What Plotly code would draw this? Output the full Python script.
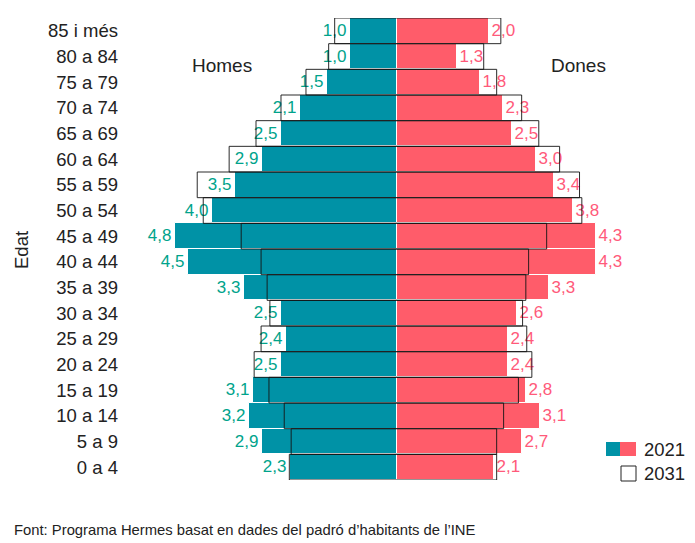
import plotly.graph_objects as go

# Age groups, bottom to top
ages = ["0 a 4", "5 a 9", "10 a 14", "15 a 19", "20 a 24", "25 a 29", "30 a 34",
        "35 a 39", "40 a 44", "45 a 49", "50 a 54", "55 a 59", "60 a 64",
        "65 a 69", "70 a 74", "75 a 79", "80 a 84", "85 i més"]

men_2021 = [2.3, 2.9, 3.2, 3.1, 2.5, 2.4, 2.5, 3.3, 4.5, 4.8, 4.0, 3.5, 2.9, 2.5, 2.1, 1.5, 1.0, 1.0]
men_2031 = [2.32, 2.28, 2.43, 2.76, 3.08, 2.93, 2.74, 2.8, 2.93, 3.36, 4.18, 4.31, 3.62, 3.04, 2.5, 1.96, 1.47, 1.34]
women_2021 = [2.1, 2.7, 3.1, 2.8, 2.4, 2.4, 2.6, 3.3, 4.3, 4.3, 3.8, 3.4, 3.0, 2.5, 2.3, 1.8, 1.3, 2.0]
women_2031 = [2.16, 2.16, 2.31, 2.63, 2.92, 2.81, 2.72, 2.79, 2.85, 3.24, 4.0, 3.95, 3.52, 3.07, 2.7, 2.16, 1.88, 2.25]

TEAL = "#0092A6"
PINK = "#FF5C6A"
TEAL_TXT = "#00A38B"
PINK_TXT = "#FF5A7A"
FONT = "Liberation Sans, Arial, sans-serif"

def fmt(v):
    return f"{v:.1f}".replace(".", ",")

ypos = list(range(len(ages)))

fig = go.Figure()

fig.add_trace(go.Bar(
    y=ypos, x=women_2021, orientation="h", width=1,
    marker=dict(color=PINK, line=dict(color="white", width=1)),
    text=[fmt(v) for v in women_2021], textposition="outside",
    textfont=dict(color=PINK_TXT, size=17, family=FONT),
    constraintext="none", cliponaxis=False, showlegend=False, hoverinfo="skip"))

fig.add_trace(go.Bar(
    y=ypos, x=[-v for v in men_2021], orientation="h", width=1,
    marker=dict(color=TEAL, line=dict(color="white", width=1)),
    text=[fmt(v) for v in men_2021], textposition="outside",
    textfont=dict(color=TEAL_TXT, size=17, family=FONT),
    constraintext="none", cliponaxis=False, showlegend=False, hoverinfo="skip"))

# 2031 outlines (three sides, open at the centre)
def outline(values, sign):
    xs, ys = [], []
    for k, v in zip(ypos, values):
        xs += [0, sign * v, sign * v, 0, None]
        ys += [k - 0.5, k - 0.5, k + 0.5, k + 0.5, None]
    return xs, ys

for vals, sign in ((men_2031, -1), (women_2031, 1)):
    xs, ys = outline(vals, sign)
    fig.add_trace(go.Scatter(x=xs, y=ys, mode="lines",
                             line=dict(color="rgba(20,20,20,0.9)", width=1),
                             showlegend=False, hoverinfo="skip", cliponaxis=False))

W, H = 695, 543
L, R, T, B = 119, 53, 18, 63
PW, PH = W - L - R, H - T - B

def px(x):
    return (x - L) / PW

def py(y):
    return (H - B - y) / PH

annotations = [
    dict(text="Homes", x=px(222), y=py(65), font=dict(size=19, color="#222", family=FONT)),
    dict(text="Dones", x=px(578), y=py(65), font=dict(size=19, color="#222", family=FONT)),
    dict(text="Edat", x=px(21), y=py(250), textangle=-90, font=dict(size=18.5, color="#222", family=FONT)),
    dict(text="Font: Programa Hermes basat en dades del padró d’habitants de l’INE",
         x=px(12), y=py(530), xanchor="left", font=dict(size=14.8, color="#222", family=FONT)),
    dict(text="2021", x=px(642), y=py(449), xanchor="left", font=dict(size=18.5, color="#222", family=FONT)),
    dict(text="2031", x=px(642), y=py(473), xanchor="left", font=dict(size=18.5, color="#222", family=FONT)),
]
for a in annotations:
    a.update(xref="paper", yref="paper", showarrow=False)
    a.setdefault("xanchor", "center")
    a.setdefault("yanchor", "middle")

shapes = [
    dict(type="rect", x0=px(606), x1=px(620), y0=py(456), y1=py(442),
         fillcolor=TEAL, line=dict(width=0)),
    dict(type="rect", x0=px(620), x1=px(636), y0=py(456), y1=py(442),
         fillcolor=PINK, line=dict(width=0)),
    dict(type="rect", x0=px(621), x1=px(636), y0=py(481), y1=py(466),
         fillcolor="white", line=dict(width=1, color="#222")),
]
for s in shapes:
    s.update(xref="paper", yref="paper")

fig.update_layout(
    width=W, height=H,
    margin=dict(l=L, r=R, t=T, b=B),
    plot_bgcolor="white", paper_bgcolor="white",
    barmode="overlay", bargap=0,
    font=dict(family=FONT, color="#222"),
    xaxis=dict(range=[-6.0, 5.3], visible=False, fixedrange=True),
    yaxis=dict(range=[-0.5, 17.5], tickvals=ypos, ticktext=ages, showgrid=False,
               zeroline=False, showline=False, ticks="",
               tickfont=dict(size=18.5, color="#222", family=FONT), fixedrange=True),
    annotations=annotations, shapes=shapes, showlegend=False,
)

fig.write_html("out.html", config={"displayModeBar": False},
               post_script="document.body.style.margin='0';document.body.style.overflow='hidden';")
